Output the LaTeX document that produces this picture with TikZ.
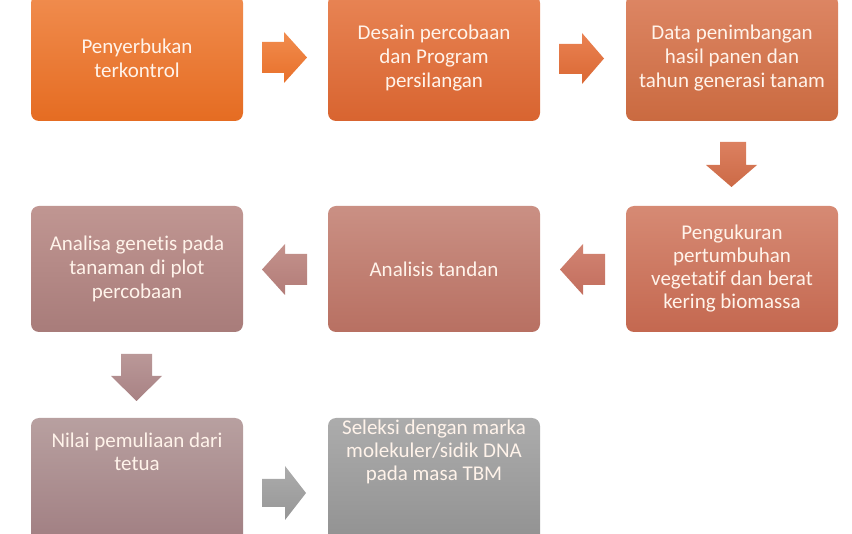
\documentclass[tikz,border=0pt]{standalone}
\usepackage{fontspec}
\setmainfont[Ligatures={NoCommon}]{Carlito}
\definecolor{txt}{HTML}{FFF3EA}
\tikzset{
  box/.style={rounded corners=8pt, minimum width=212pt, minimum height=126pt, inner sep=0pt,
    text=txt, align=center, font=\fontsize{21}{24}\selectfont},
  lbl/.style={text=txt, align=center, font=\fontsize{21}{23}\selectfont},
  arr/.style={draw=none}
}
\begin{document}
\begin{tikzpicture}[x=1pt,y=-1pt]
\useasboundingbox (0,0) rectangle (852,534);
\begin{scope}
\clip (0,0) rectangle (852,534);
% row 1
\node[box, top color={rgb,255:red,240;green,140;blue,78}, bottom color={rgb,255:red,229;green,108;blue,34}] (b1) at (137,58) {Penyerbukan\\terkontrol};
\node[box, top color={rgb,255:red,232;green,132;blue,84}, bottom color={rgb,255:red,216;green,100;blue,48}] (b2) at (434,58) {Desain percobaan\\dan Program\\persilangan};
\node[box, top color={rgb,255:red,221;green,134;blue,100}, bottom color={rgb,255:red,202;green,106;blue,64}] (b3) at (732,58) {Data penimbangan\\hasil panen dan\\tahun generasi tanam};
% row 2
\node[box, font=\fontsize{21}{23}\selectfont, top color={rgb,255:red,214;green,138;blue,116}, bottom color={rgb,255:red,196;green,104;blue,80}] (b4) at (732,269) {Pengukuran\\pertumbuhan\\vegetatif dan berat\\kering biomassa};
\node[box, top color={rgb,255:red,202;green,144;blue,132}, bottom color={rgb,255:red,184;green,112;blue,98}] (b5) at (434,269) {Analisis tandan};
\node[box, top color={rgb,255:red,192;green,150;blue,146}, bottom color={rgb,255:red,168;green,124;blue,122}] (b6) at (137,269) {Analisa genetis pada\\tanaman di plot\\percobaan};
% row 3
\node[box, minimum height=150pt, top color={rgb,255:red,184;green,160;blue,160}, bottom color={rgb,255:red,156;green,120;blue,124}] (b7) at (137,493) {};
\node[box, minimum height=150pt, top color={rgb,255:red,172;green,172;blue,172}, bottom color={rgb,255:red,140;green,140;blue,140}] (b8) at (434,493) {};
\end{scope}
\node[lbl] (t7) at (137,452) {Nilai pemuliaan dari\\tetua};
\node[lbl] (t8) at (434,452) {Seleksi dengan marka\\molekuler/sidik DNA\\pada masa TBM};
% arrows
\path[arr, top color={rgb,255:red,241;green,140;blue,78}, bottom color={rgb,255:red,232;green,112;blue,42}]
  (262,42) -- (284,42) -- (284,32) -- (307,57.5) -- (284,83) -- (284,73) -- (262,73) -- cycle;
\path[arr, top color={rgb,255:red,234;green,130;blue,82}, bottom color={rgb,255:red,218;green,104;blue,52}]
  (559,44) -- (582,44) -- (582,33) -- (604,58.5) -- (582,84) -- (582,74) -- (559,74) -- cycle;
\path[arr, top color={rgb,255:red,220;green,128;blue,96}, bottom color={rgb,255:red,204;green,106;blue,70}]
  (720,142) -- (746,142) -- (746,165) -- (757,165) -- (731.5,187) -- (706,165) -- (720,165) -- cycle;
\path[arr, top color={rgb,255:red,210;green,132;blue,114}, bottom color={rgb,255:red,194;green,110;blue,94}]
  (605,254) -- (583,254) -- (583,244) -- (560,269.5) -- (583,295) -- (583,285) -- (605,285) -- cycle;
\path[arr, top color={rgb,255:red,196;green,146;blue,140}, bottom color={rgb,255:red,178;green,124;blue,120}]
  (307,254) -- (285,254) -- (285,244) -- (262,269.5) -- (285,295) -- (285,285) -- (307,285) -- cycle;
\path[arr, top color={rgb,255:red,186;green,152;blue,152}, bottom color={rgb,255:red,168;green,130;blue,132}]
  (121,354) -- (152,354) -- (152,376) -- (162,376) -- (136.5,401) -- (111,376) -- (121,376) -- cycle;
\path[arr, top color={rgb,255:red,172;green,172;blue,172}, bottom color={rgb,255:red,150;green,150;blue,150}]
  (262,479) -- (285,479) -- (285,466) -- (306,493) -- (285,520) -- (285,507) -- (262,507) -- cycle;
\end{tikzpicture}
\end{document}
